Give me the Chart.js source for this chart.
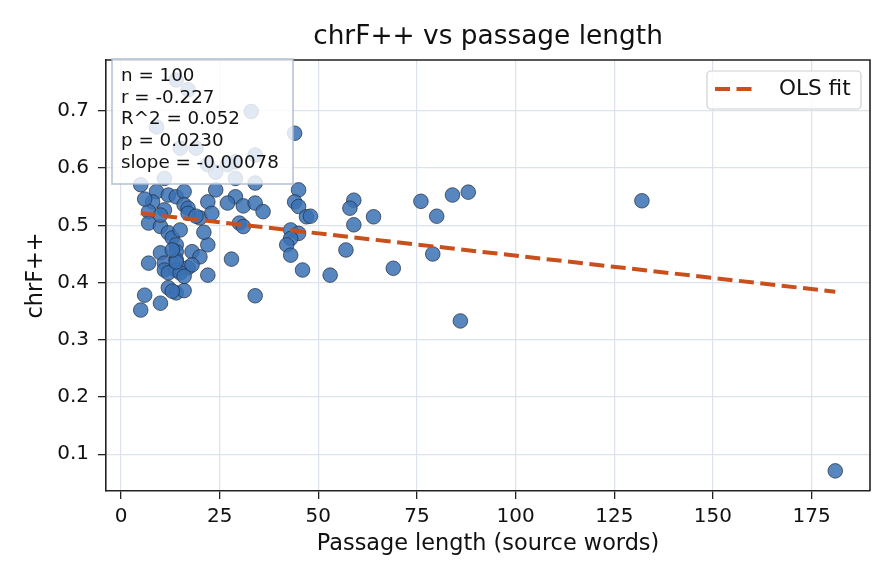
<!DOCTYPE html>
<html>
<head>
<meta charset="utf-8">
<script src="https://cdn.jsdelivr.net/npm/chart.js@4.4.0/dist/chart.umd.min.js"></script>
<style>
  html, body { margin: 0; padding: 0; background: #fff; }
  #wrap { width: 896px; height: 584px; }
</style>
</head>
<body>
<div id="wrap"><canvas id="scatterChart" width="896" height="584"></canvas></div>
<script>
// passage length (source words) and chrF++ per passage
const passageLen = [
    5, 9, 12, 14, 16, 8, 11, 7, 16, 17,
    17, 22, 24, 20, 7, 10, 12, 13, 15, 14,
    14, 10, 18, 20, 22, 7, 11, 14, 11, 14,
    17, 18, 12, 15, 22, 12, 14, 16, 6, 10,
    5, 29, 27, 31, 34, 34, 36, 23, 30, 31,
    28, 34, 45, 44, 45, 47, 48, 43, 45, 43,
    42, 43, 46, 53, 59, 58, 64, 59, 57, 69,
    76, 84, 88, 80, 79, 86, 132, 181, 44, 14,
    33, 9, 15, 19, 22, 29, 34, 11, 29, 24,
    17, 27, 14, 13, 16, 10, 19, 13, 6, 21
];
const chrfScore = [
    0.571, 0.559, 0.553, 0.550, 0.559, 0.541, 0.527, 0.524, 0.536, 0.530,
    0.521, 0.541, 0.562, 0.513, 0.504, 0.498, 0.487, 0.478, 0.492, 0.466,
    0.454, 0.452, 0.454, 0.445, 0.466, 0.434, 0.434, 0.440, 0.422, 0.422,
    0.426, 0.431, 0.417, 0.417, 0.413, 0.391, 0.382, 0.386, 0.378, 0.364,
    0.352, 0.550, 0.539, 0.534, 0.574, 0.539, 0.524, 0.521, 0.504, 0.498,
    0.441, 0.377, 0.562, 0.541, 0.533, 0.515, 0.516, 0.492, 0.486, 0.477,
    0.466, 0.448, 0.422, 0.413, 0.544, 0.530, 0.515, 0.501, 0.457, 0.425,
    0.542, 0.553, 0.558, 0.516, 0.450, 0.333, 0.543, 0.071, 0.661, 0.754,
    0.699, 0.672, 0.635, 0.635, 0.606, 0.611, 0.623, 0.582, 0.582, 0.593,
    0.737, 0.606, 0.436, 0.457, 0.411, 0.518, 0.516, 0.385, 0.546, 0.488
];

// OLS fit end points
const fitX = [5, 181];
const fitY = [0.521, 0.384];

const xTicks = [0, 25, 50, 75, 100, 125, 150, 175];
const yTicks = [0.1, 0.2, 0.3, 0.4, 0.5, 0.6, 0.7];

const statLines = ['n = 100', 'r = -0.227', 'R^2 = 0.052', 'p = 0.0230', 'slope = -0.00078'];

const FONT = 'DejaVu Sans';
const fitColor = '#c9501c';
const gridColor = '#dde3ec';

// frame (top/right spines), stats box and legend
const overlay = {
    id: 'overlay',
    afterDraw(chart) {
        const ctx = chart.ctx;
        const a = chart.chartArea;
        ctx.save();

        ctx.strokeStyle = '#222';
        ctx.lineWidth = 1.6;
        ctx.beginPath();
        ctx.moveTo(a.left, a.top);
        ctx.lineTo(a.right, a.top);
        ctx.lineTo(a.right, a.bottom);
        ctx.stroke();

        // stats box
        ctx.fillStyle = 'rgba(255,255,255,0.82)';
        ctx.fillRect(112, 59, 181, 125);
        ctx.strokeStyle = 'rgba(170,184,204,0.85)';
        ctx.lineWidth = 1.6;
        ctx.strokeRect(112, 59, 181, 125);
        ctx.fillStyle = '#111';
        ctx.font = '18.3px "' + FONT + '"';
        ctx.textBaseline = 'middle';
        ctx.textAlign = 'left';
        statLines.forEach((s, i) => ctx.fillText(s, 121, 76 + i * 21.8));

        // legend
        const lx = 707, ly = 71, lw = 154, lh = 38;
        ctx.beginPath();
        ctx.roundRect(lx, ly, lw, lh, 4);
        ctx.fillStyle = 'rgba(255,255,255,0.85)';
        ctx.fill();
        ctx.strokeStyle = '#d0d0d0';
        ctx.lineWidth = 1.2;
        ctx.stroke();
        ctx.strokeStyle = fitColor;
        ctx.lineWidth = 4;
        ctx.setLineDash([15, 6.5]);
        ctx.beginPath();
        ctx.moveTo(715, 89);
        ctx.lineTo(754, 89);
        ctx.stroke();
        ctx.setLineDash([]);
        ctx.fillStyle = '#111';
        ctx.font = '21.6px "' + FONT + '"';
        ctx.fillText('OLS fit', 779, 89);

        ctx.restore();
    }
};

const ctx = document.getElementById('scatterChart').getContext('2d');
const chart = new Chart(ctx, {
    type: 'scatter',
    data: {
        datasets: [{
            type: 'line',
            label: 'OLS fit',
            data: fitX.map((x, i) => ({ x: x, y: fitY[i] })),
            borderColor: fitColor,
            borderWidth: 4,
            borderDash: [15, 6.5],
            pointRadius: 0,
            fill: false,
            order: 0
        }, {
            label: 'passages',
            data: passageLen.map((x, i) => ({ x: x, y: chrfScore[i] })),
            backgroundColor: 'rgba(59,114,181,0.85)',
            borderColor: '#1f2a3a',
            borderWidth: 0.7,
            pointRadius: 7.3,
            order: 1
        }]
    },
    options: {
        responsive: false,
        devicePixelRatio: 1,
        animation: false,
        layout: { padding: { left: 0, right: 26, top: 0, bottom: 0 } },
        plugins: {
            legend: { display: false },
            tooltip: { enabled: false },
            title: {
                display: true,
                fullSize: false,
                text: 'chrF++ vs passage length',
                color: '#111',
                font: { family: FONT, size: 26.4, weight: 'normal' },
                padding: { top: 21.2, bottom: 7.1 }
            }
        },
        scales: {
            x: {
                type: 'linear',
                min: -3.8,
                max: 189.8,
                afterBuildTicks: s => { s.ticks = xTicks.map(v => ({ value: v })); },
                afterFit: s => { s.height = 93; },
                ticks: {
                    color: '#111',
                    font: { family: FONT, size: 20 },
                    padding: 6,
                    maxRotation: 0,
                    callback: v => String(v)
                },
                grid: { color: gridColor, lineWidth: 1.3, tickColor: '#222', tickLength: 8, tickWidth: 1.3 },
                border: { display: true, color: '#222', width: 1.6 },
                title: {
                    display: true,
                    text: 'Passage length (source words)',
                    color: '#111',
                    font: { family: FONT, size: 22.4 },
                    padding: { top: 0, bottom: 26.5 }
                }
            },
            y: {
                type: 'linear',
                min: 0.0358,
                max: 0.789,
                afterBuildTicks: s => { s.ticks = yTicks.map(v => ({ value: v })); },
                afterFit: s => { s.width = 106; },
                ticks: {
                    color: '#111',
                    font: { family: FONT, size: 20 },
                    padding: 9,
                    callback: v => v.toFixed(1)
                },
                grid: { color: gridColor, lineWidth: 1.3, tickColor: '#222', tickLength: 8, tickWidth: 1.3 },
                border: { display: true, color: '#222', width: 1.6 },
                title: {
                    display: true,
                    text: 'chrF++',
                    color: '#111',
                    font: { family: FONT, size: 22.4 },
                    padding: { top: 22.5, bottom: 0 }
                }
            }
        }
    },
    plugins: [overlay]
});
</script>
</body>
</html>
